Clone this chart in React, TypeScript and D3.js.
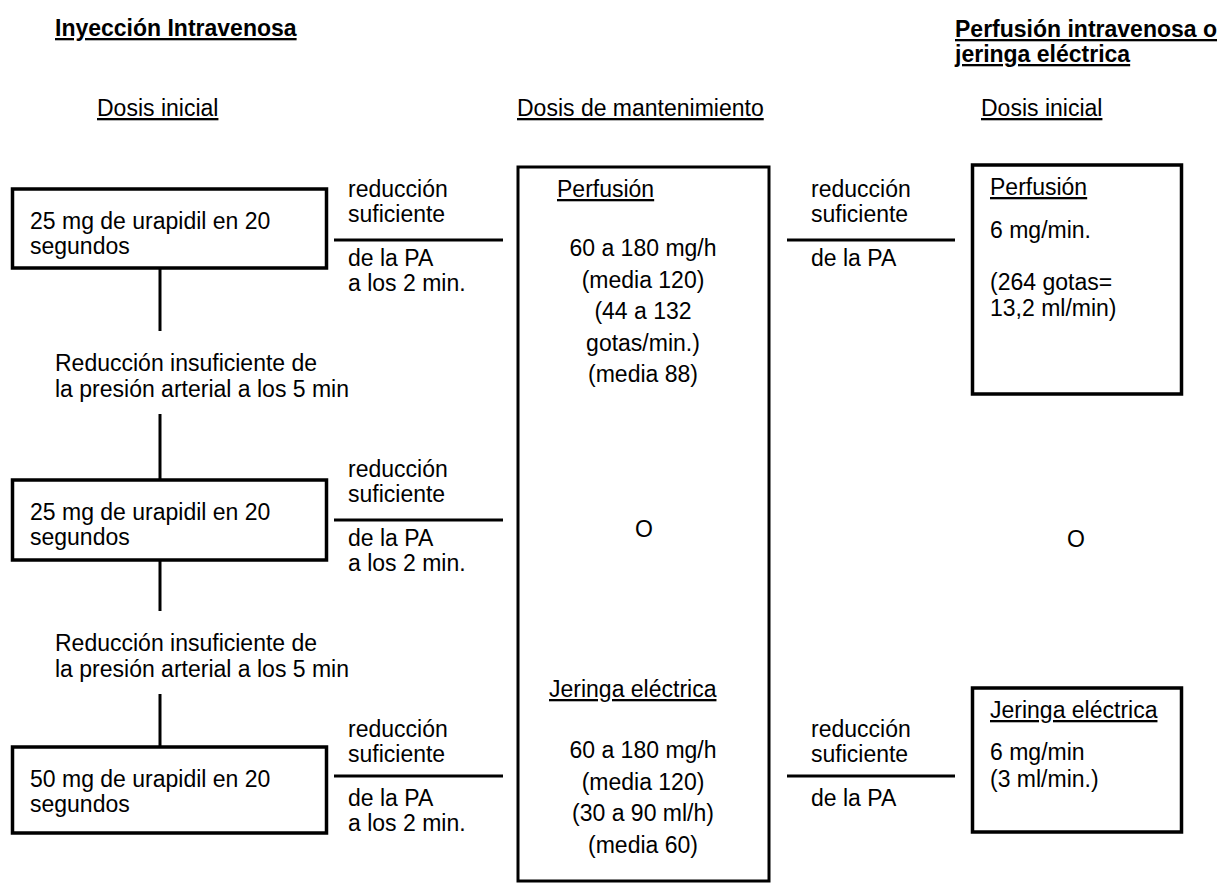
import * as d3 from "d3";

// flowchart content
const leftTitle = "Inyección Intravenosa";
const rightTitle = ["Perfusión intravenosa o", "jeringa eléctrica"];
const columnHeads = ["Dosis inicial", "Dosis de mantenimiento", "Dosis inicial"];
const initialDoses = [
  ["25 mg de urapidil en 20", "segundos"],
  ["25 mg de urapidil en 20", "segundos"],
  ["50 mg de urapidil en 20", "segundos"],
];
const insufficient = ["Reducción insuficiente de", "la presión arterial a los 5 min"];
const aboveLine = ["reducción", "suficiente"];
const belowLineLeft = ["de la PA", "a los 2 min."];
const belowLineRight = ["de la PA"];
const maintPerfusion = ["60 a 180 mg/h", "(media 120)", "(44 a 132", "gotas/min.)", "(media 88)"];
const maintSyringe = ["60 a 180 mg/h", "(media 120)", "(30 a 90 ml/h)", "(media 60)"];
const startPerfusion = ["6 mg/min.", "", "(264 gotas=", "13,2 ml/min)"];
const startSyringe = ["6 mg/min", "(3 ml/min.)"];
const modeTitles = ["Perfusión", "Jeringa eléctrica"];
const orWord = "O";

// layout
const W = 1231;
const H = 887;
const FS = 23;
const font = "'Liberation Sans', Arial, sans-serif";
const leftBoxes = [
  { y0: 189, y1: 268 },
  { y0: 480, y1: 560 },
  { y0: 747, y1: 833 },
];
const stepY = [197, 477, 737]; // baseline of "reducción" per row
const lineY = [240, 520, 776];

const App = () => {
  const lh = d3.scaleLinear().domain([0, 1]).range([0, 31.5]);
  const ux = { textDecoration: "underline" } as React.CSSProperties;

  return (
    <svg
      width={W}
      height={H}
      style={{ position: "absolute", left: 0, top: 0, background: "#fff" }}
      fontFamily={font}
      fontSize={FS}
      fill="#000"
    >
      {/* titles */}
      <text x={55} y={36} fontWeight="bold" style={ux}>{leftTitle}</text>
      {rightTitle.map((t, i) => (
        <text key={t} x={955} y={37 + i * 25} fontWeight="bold" style={ux}>{t}</text>
      ))}
      <text x={97} y={116} style={ux}>{columnHeads[0]}</text>
      <text x={517} y={116} style={ux}>{columnHeads[1]}</text>
      <text x={981} y={116} style={ux}>{columnHeads[2]}</text>

      {/* initial dose boxes */}
      {leftBoxes.map((b, i) => (
        <g key={i}>
          <rect x={12.5} y={b.y0} width={314} height={b.y1 - b.y0} fill="none" stroke="#000" strokeWidth={3.5} />
          {initialDoses[i].map((t, j) => (
            <text key={j} x={30} y={b.y0 + 40 + j * 25}>{t}</text>
          ))}
        </g>
      ))}

      {/* vertical connectors + insufficient text */}
      {[0, 1].map((i) => {
        const top = leftBoxes[i].y1;
        const bot = leftBoxes[i + 1].y0;
        const ty = i === 0 ? 371 : 651;
        return (
          <g key={i}>
            <line x1={160} x2={160} y1={top} y2={ty - 40} stroke="#000" strokeWidth={3} />
            <line x1={160} x2={160} y1={ty + 43} y2={bot} stroke="#000" strokeWidth={3} />
            {insufficient.map((t, j) => (
              <text key={j} x={55} y={ty + j * 26}>{t}</text>
            ))}
          </g>
        );
      })}

      {/* left transitions */}
      {stepY.map((y, i) => (
        <g key={i}>
          {aboveLine.map((t, j) => (
            <text key={j} x={348} y={y + j * 25}>{t}</text>
          ))}
          <line x1={334} x2={503} y1={lineY[i]} y2={lineY[i]} stroke="#000" strokeWidth={3} />
          {belowLineLeft.map((t, j) => (
            <text key={j} x={348} y={y + 69 + j * 25}>{t}</text>
          ))}
        </g>
      ))}

      {/* maintenance box */}
      <rect x={518} y={167} width={251} height={714} fill="none" stroke="#000" strokeWidth={3} />
      <text x={557} y={197} style={ux}>{modeTitles[0]}</text>
      {maintPerfusion.map((t, i) => (
        <text key={i} x={643} y={256 + lh(i)} textAnchor="middle">{t}</text>
      ))}
      <text x={644} y={537} textAnchor="middle">{orWord}</text>
      <text x={549} y={697} style={ux}>{modeTitles[1]}</text>
      {maintSyringe.map((t, i) => (
        <text key={i} x={643} y={758 + lh(i)} textAnchor="middle">{t}</text>
      ))}

      {/* right transitions */}
      {[0, 2].map((k) => (
        <g key={k}>
          {aboveLine.map((t, j) => (
            <text key={j} x={811} y={stepY[k] + j * 25}>{t}</text>
          ))}
          <line x1={787} x2={955} y1={lineY[k]} y2={lineY[k]} stroke="#000" strokeWidth={3} />
          {belowLineRight.map((t, j) => (
            <text key={j} x={811} y={stepY[k] + 69 + j * 25}>{t}</text>
          ))}
        </g>
      ))}

      {/* initial infusion boxes */}
      <rect x={972.5} y={165} width={209} height={229} fill="none" stroke="#000" strokeWidth={3.5} />
      <text x={990} y={195} style={ux}>{modeTitles[0]}</text>
      {startPerfusion.map((t, i) => (
        <text key={i} x={990} y={238 + i * 26}>{t}</text>
      ))}
      <text x={1076} y={547} textAnchor="middle">{orWord}</text>
      <rect x={972.5} y={688} width={209} height={144} fill="none" stroke="#000" strokeWidth={3.5} />
      <text x={990} y={718} style={ux}>{modeTitles[1]}</text>
      {startSyringe.map((t, i) => (
        <text key={i} x={990} y={760 + i * 27}>{t}</text>
      ))}
    </svg>
  );
};

export default App;
